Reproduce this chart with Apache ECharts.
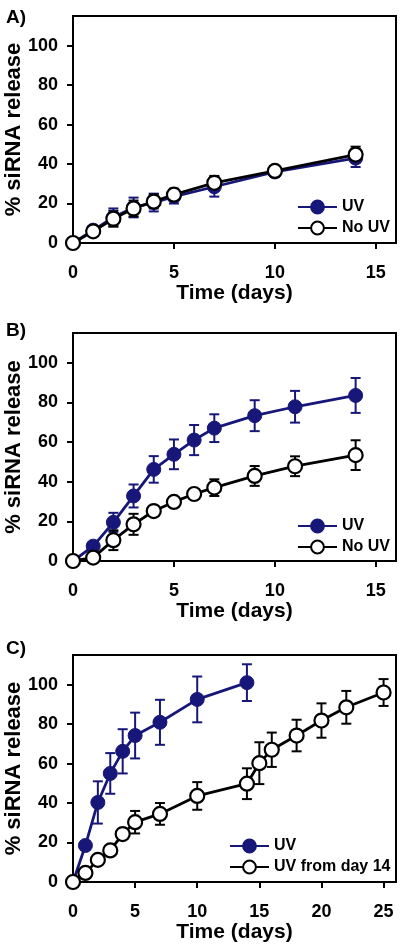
<!DOCTYPE html>
<html>
<head>
<meta charset="utf-8">
<script src="https://cdn.jsdelivr.net/npm/echarts@6/dist/echarts.min.js"></script>
<style>html,body{margin:0;padding:0;background:#fff}#c{width:400px;height:947px}</style>
</head>
<body>
<div id="c"></div>
<script>
// ---- Data ----
const daysA = [0, 1, 2, 3, 4, 5, 7, 10, 14];
const uvA = [0, 6.5, 13, 18, 20.5, 23.5, 28.5, 36, 43];
const uvErrA = [0, 2, 4.5, 5, 4.5, 3.5, 5, 2.5, 4.5];
const noUvA = [0, 5.9, 12.3, 17.5, 21, 24.5, 30.5, 36.5, 44.8];
const noUvErrA = [0, 2, 4, 4, 3.5, 3, 3.5, 2.5, 4];

const daysB = [0, 1, 2, 3, 4, 5, 6, 7, 9, 11, 14];
const uvB = [0, 7.5, 19.5, 32.8, 46.2, 53.8, 61, 67, 73.3, 77.8, 83.5];
const uvErrB = [0, 2, 4.8, 5.8, 6.7, 7.5, 7.6, 7, 7.8, 8, 8.8];
const noUvB = [0, 1.7, 10.5, 18.5, 25.2, 29.8, 33.8, 37, 42.9, 47.8, 53.4];
const noUvErrB = [0, 1, 5, 5.3, 1.5, 1.5, 2.5, 4.2, 5, 5, 7.5];

const daysCuv = [0, 1, 2, 3, 4, 5, 7, 10, 14];
const uvC = [0, 18.5, 40.3, 55, 66.2, 74.2, 80.9, 92.5, 101];
const uvErrC = [0, 2, 10.7, 10.3, 11.2, 11.6, 11.4, 11.6, 9.3];
const daysC14 = [0, 1, 2, 3, 4, 5, 7, 10, 14, 15, 16, 18, 20, 22, 25];
const uv14C = [0, 4.6, 11.2, 16, 24.3, 30.3, 34.5, 43.6, 49.8, 60.2, 67, 74.2, 81.8, 88.5, 96];
const uv14ErrC = [0, 1, 1.5, 1.5, 2.5, 5.7, 5.5, 7, 7.8, 10.6, 8.7, 8, 8.7, 8.3, 6.8];

const yTicks = [0, 20, 40, 60, 80, 100];
const xTicksAB = [0, 5, 10, 15];
const xTicksC = [0, 5, 10, 15, 20, 25];
const panelLabels = ['A)', 'B)', 'C)'];
const xTitle = 'Time (days)';
const yTitle = '% siRNA release';

// ---- Styles ----
const NAVY = '#17177a';
const FONT = "'Liberation Sans', Arial, sans-serif";
const grids = [
  {left: 73, top: 16, width: 323, height: 227},
  {left: 73, top: 333, width: 323, height: 228},
  {left: 73, top: 655, width: 323, height: 227}
];

function xAxis(i, max, ticks) {
  return {
    type: 'value', gridIndex: i, min: 0, max: max, interval: 5,
    axisLine: {show: true, lineStyle: {color: '#000', width: 2}},
    axisTick: {show: true, inside: false, length: 6, lineStyle: {color: '#000', width: 2}, customValues: ticks},
    axisLabel: {customValues: ticks, margin: 21, color: '#000', fontSize: 18, fontWeight: 'bold', fontFamily: FONT},
    splitLine: {show: false},
    name: xTitle, nameLocation: 'middle', nameGap: 40, nameMoveOverlap: false,
    nameTextStyle: {color: '#000', fontSize: 21, fontWeight: 'bold', fontFamily: FONT}
  };
}
function yAxis(i) {
  return {
    type: 'value', gridIndex: i, min: 0, max: 115, interval: 20,
    axisLine: {show: true, lineStyle: {color: '#000', width: 2}},
    axisTick: {show: true, inside: false, length: 6, lineStyle: {color: '#000', width: 2}, customValues: yTicks},
    axisLabel: {customValues: yTicks, margin: 15, color: '#000', fontSize: 18, fontWeight: 'bold', fontFamily: FONT},
    splitLine: {show: false},
    name: yTitle, nameLocation: 'middle', nameGap: 48, nameMoveOverlap: false,
    nameTextStyle: {color: '#000', fontSize: 22, fontWeight: 'bold', fontFamily: FONT}
  };
}

function pairs(xs, ys) { return xs.map((x, k) => [x, ys[k]]); }
function errData(xs, ys, es) { return xs.map((x, k) => [x, ys[k] - es[k], ys[k] + es[k]]); }

function errSeries(i, xs, ys, es, color) {
  return {
    type: 'custom', xAxisIndex: i, yAxisIndex: i, z: 1, silent: true, clip: false,
    data: errData(xs, ys, es),
    encode: {x: 0, y: [1, 2]},
    renderItem: function (params, api) {
      const x = api.value(0);
      const lo = api.coord([x, api.value(1)]);
      const hi = api.coord([x, api.value(2)]);
      const w = 5;
      const st = {stroke: color, lineWidth: 2};
      return {
        type: 'group',
        children: [
          {type: 'line', shape: {x1: lo[0], y1: lo[1], x2: hi[0], y2: hi[1]}, style: st},
          {type: 'line', shape: {x1: lo[0] - w, y1: lo[1], x2: lo[0] + w, y2: lo[1]}, style: st},
          {type: 'line', shape: {x1: hi[0] - w, y1: hi[1], x2: hi[0] + w, y2: hi[1]}, style: st}
        ]
      };
    }
  };
}
function filledSeries(i, name, xs, ys) {
  return {
    type: 'line', name: name, xAxisIndex: i, yAxisIndex: i, z: 3, clip: false,
    data: pairs(xs, ys), symbol: 'circle', symbolSize: 14,
    lineStyle: {color: NAVY, width: 2.8},
    itemStyle: {color: NAVY, borderColor: NAVY, borderWidth: 1}
  };
}
function openSeries(i, name, xs, ys) {
  return {
    type: 'line', name: name, xAxisIndex: i, yAxisIndex: i, z: 4, clip: false,
    data: pairs(xs, ys), symbol: 'circle', symbolSize: 14,
    lineStyle: {color: '#000', width: 2.8},
    itemStyle: {color: '#fff', borderColor: '#000', borderWidth: 2.2}
  };
}
function legend(i, names, left, top) {
  return {
    data: names, left: left, top: top, orient: 'vertical', itemGap: 5,
    itemWidth: 39, itemHeight: 16, selectedMode: false,
    textStyle: {color: '#000', fontSize: 16, fontWeight: 'bold', fontFamily: FONT}
  };
}

const option = {
  animation: false,
  backgroundColor: '#fff',
  title: panelLabels.map((t, i) => ({
    text: t, left: 1, top: [3, 316, 634][i],
    textStyle: {color: '#000', fontSize: 19, fontWeight: 'bold', fontFamily: FONT}
  })),
  grid: grids.map(g => Object.assign({show: true, borderColor: '#000', borderWidth: 2, backgroundColor: 'transparent', containLabel: false, outerBoundsMode: 'none'}, g)),
  xAxis: [xAxis(0, 16, xTicksAB), xAxis(1, 16, xTicksAB), xAxis(2, 26, xTicksC)],
  yAxis: [yAxis(0), yAxis(1), yAxis(2)],
  legend: [
    legend(0, ['UV', 'No UV'], 292, 194),
    legend(1, ['UV', 'No UV'], 292, 513),
    legend(2, ['UV', 'UV from day 14'], 224, 833)
  ],
  series: [
    errSeries(0, daysA, uvA, uvErrA, NAVY),
    errSeries(0, daysA, noUvA, noUvErrA, '#000'),
    filledSeries(0, 'UV', daysA, uvA),
    openSeries(0, 'No UV', daysA, noUvA),

    errSeries(1, daysB, uvB, uvErrB, NAVY),
    errSeries(1, daysB, noUvB, noUvErrB, '#000'),
    filledSeries(1, 'UV', daysB, uvB),
    openSeries(1, 'No UV', daysB, noUvB),

    errSeries(2, daysCuv, uvC, uvErrC, NAVY),
    errSeries(2, daysC14, uv14C, uv14ErrC, '#000'),
    filledSeries(2, 'UV', daysCuv, uvC),
    openSeries(2, 'UV from day 14', daysC14, uv14C)
  ]
};
const chart = echarts.init(document.getElementById('c'), null, {renderer: 'canvas'});
chart.setOption(option);
</script>
</body>
</html>
